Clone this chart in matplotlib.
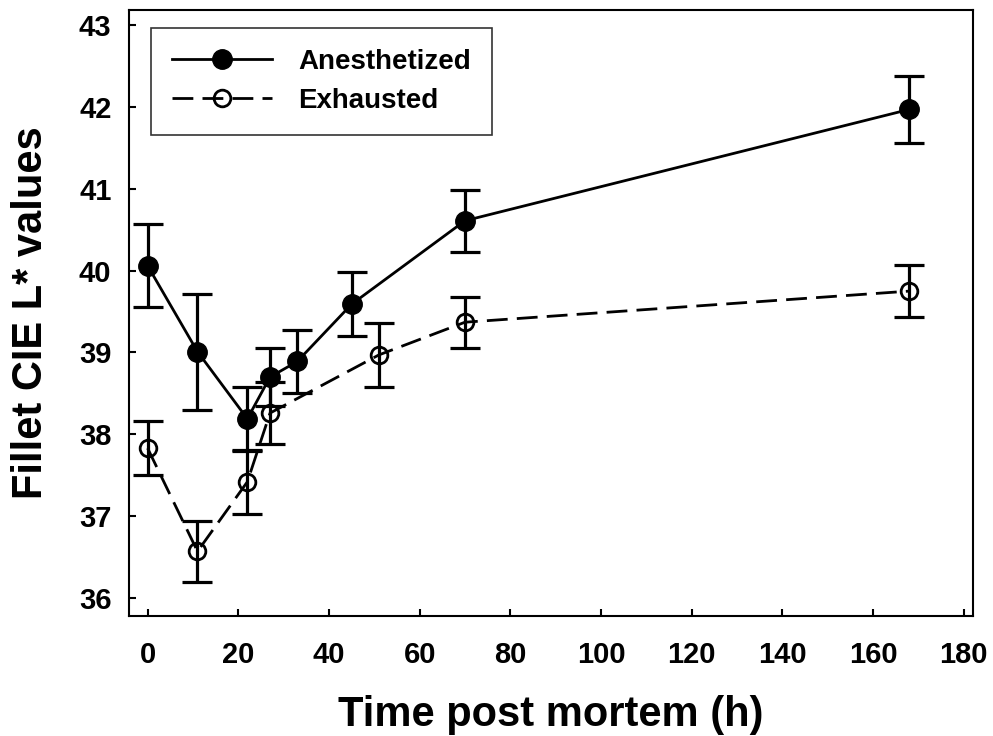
import matplotlib
matplotlib.use("Agg")
import matplotlib.pyplot as plt

# ── Data ──────────────────────────────────────────────────────────────────────
anest_h   = [0, 11, 22, 27, 33, 45, 70, 168]
anest_L   = [40.06, 39.01, 38.19, 38.70, 38.89, 39.59, 40.61, 41.97]
anest_err = [0.51, 0.71, 0.39, 0.35, 0.39, 0.39, 0.38, 0.41]

exh_h   = [0, 11, 22, 27, 51, 70, 168]
exh_L   = [37.83, 36.57, 37.42, 38.26, 38.97, 39.37, 39.75]
exh_err = [0.33, 0.37, 0.39, 0.38, 0.39, 0.31, 0.32]

x_ticks = [0, 20, 40, 60, 80, 100, 120, 140, 160, 180]
y_ticks = [36, 37, 38, 39, 40, 41, 42, 43]

plt.rcParams["font.family"] = ["Liberation Sans", "DejaVu Sans"]
plt.rcParams["font.weight"] = "bold"

fig = plt.figure(figsize=(9.93, 7.36), dpi=100)
ax = fig.add_axes([0.1304, 0.163, 0.8492, 0.824])

# error bars first, then the lines + markers on top
ax.errorbar(anest_h, anest_L, yerr=anest_err, fmt="none", ecolor="black",
            elinewidth=2.3, capsize=10.5, capthick=2.3, zorder=2)
ax.errorbar(exh_h, exh_L, yerr=exh_err, fmt="none", ecolor="black",
            elinewidth=2.3, capsize=10.5, capthick=2.3, zorder=2)

ax.plot(anest_h, anest_L, color="black", linewidth=2.0, marker="o",
        markersize=14, markerfacecolor="black", markeredgecolor="black",
        label="Anesthetized", zorder=3)
ax.plot(exh_h, exh_L, color="black", linewidth=2.0, linestyle=(0, (7.5, 3.3)),
        marker="o", markersize=12, markerfacecolor="none",
        markeredgecolor="black", markeredgewidth=2.0,
        label="Exhausted", zorder=3)

ax.set_xlim(-4, 182)
ax.set_ylim(35.78, 43.19)
ax.set_xticks(x_ticks)
ax.set_yticks(y_ticks)

for side in ["top", "right", "left", "bottom"]:
    ax.spines[side].set_linewidth(1.5)

ax.tick_params(axis="both", direction="in", length=5, width=1.5,
               labelsize=21)
ax.tick_params(axis="x", pad=18)
ax.tick_params(axis="y", pad=13)
for lbl in ax.get_xticklabels() + ax.get_yticklabels():
    lbl.set_fontweight("bold")

ax.set_xlabel("Time post mortem (h)", fontsize=30, fontweight="bold")
ax.set_ylabel("Fillet CIE L* values", fontsize=30, fontweight="bold")
ax.xaxis.set_label_coords(0.5, -0.163)
ax.xaxis.label.set_verticalalignment("center")
ax.yaxis.set_label_coords(-0.117, 0.5)
ax.yaxis.label.set_verticalalignment("center")

leg = ax.legend(loc="upper left", bbox_to_anchor=(0.0255, 0.969),
                frameon=True, fancybox=False, edgecolor="black",
                handlelength=3.6, handletextpad=0.95, labelspacing=0.45,
                borderpad=0.75, borderaxespad=0.0,
                prop={"weight": "bold", "size": 20})
leg.get_frame().set_linewidth(1.2)

plt.savefig("out.png", dpi=100)
